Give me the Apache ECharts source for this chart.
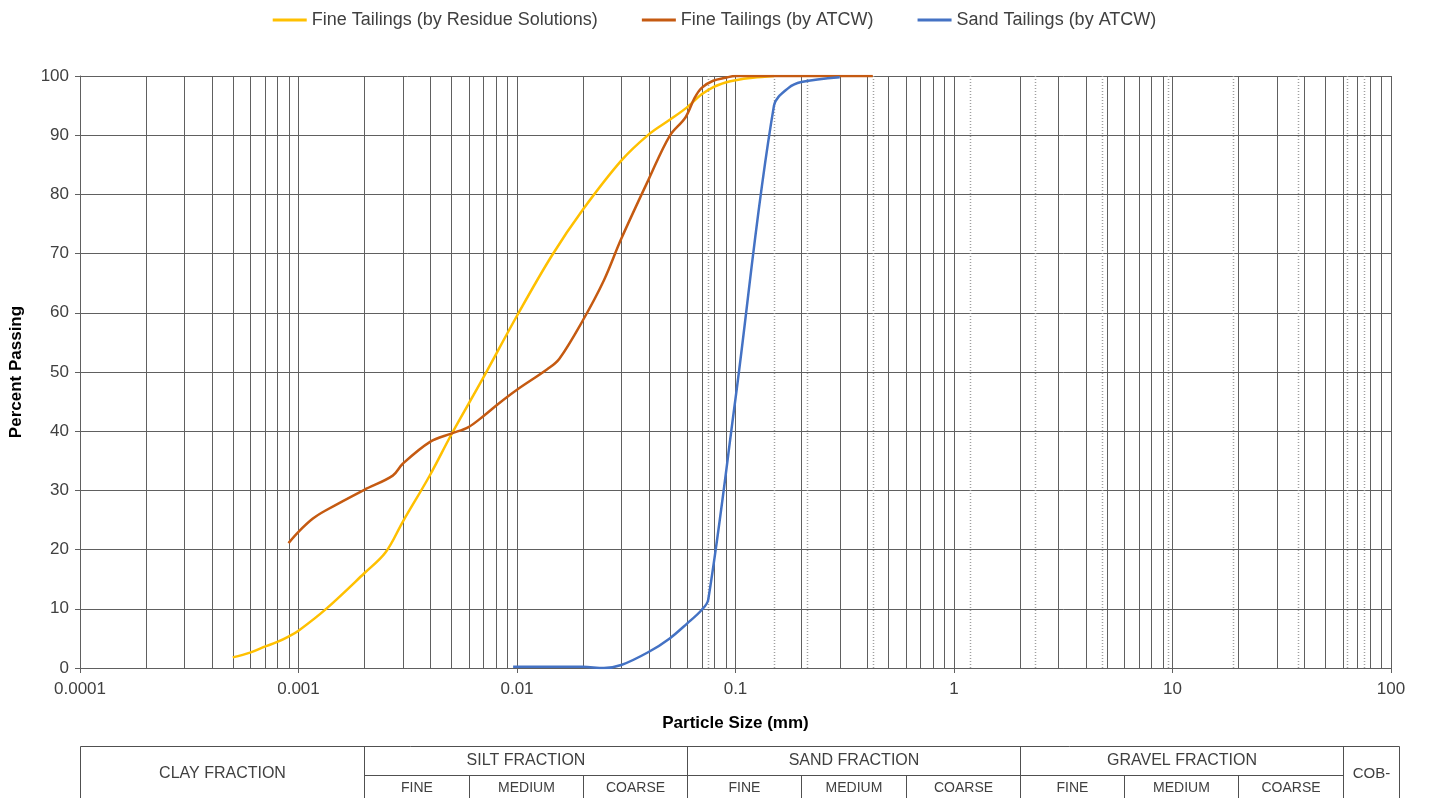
<!DOCTYPE html>
<html>
<head>
<meta charset="utf-8">
<script src="https://cdn.jsdelivr.net/npm/echarts@6/dist/echarts.min.js"></script>
<style>
html,body{margin:0;padding:0;background:#fff;}
#chart{width:1429px;height:798px;}
</style>
</head>
<body>
<div id="chart"></div>
<script>
// ---- data ----
var seriesNames = ['Fine Tailings (by Residue Solutions)', 'Fine Tailings (by ATCW)', 'Sand Tailings (by ATCW)'];
var seriesColors = ['#FFC000', '#C55A11', '#4472C4'];

var residueSize    = [0.0005, 0.0006, 0.0007, 0.0008, 0.0009, 0.001, 0.00133, 0.002, 0.0025, 0.003, 0.004, 0.005, 0.007, 0.01, 0.0144, 0.02, 0.03, 0.04, 0.05, 0.06, 0.07, 0.08, 0.09, 0.1, 0.12, 0.15];
var residuePassing = [1.8,    2.6,    3.6,    4.4,    5.3,    6.3,   9.9,     16.0,  19.5,   24.7,  32.6,  39.4,  49.0,  59.5, 69.6,   77.4, 85.7, 90.1, 92.6, 94.7, 96.9, 98.2, 98.9, 99.3, 99.7, 100];

var atcwFineSize    = [0.0009, 0.001, 0.00116, 0.00133, 0.002, 0.0027, 0.003, 0.004, 0.005, 0.006, 0.0071, 0.0082, 0.01, 0.0138, 0.0156, 0.02, 0.025, 0.03, 0.04, 0.05, 0.059, 0.065, 0.07, 0.079, 0.09, 0.1, 0.425];
var atcwFinePassing = [21.1,   23.0,  25.2,    26.6,    30.1,  32.5,   34.5,  38.2,  39.6,  40.7,  42.7,   44.6,   47.0, 50.5,   52.2,   58.7, 65.5,  72.5, 82.5, 89.9, 93.0,  96.3,  98.0, 99.2,  99.7, 100,  100];

var sandSize    = [0.0096, 0.02, 0.025, 0.03, 0.04, 0.05, 0.06, 0.07, 0.075, 0.1,  0.15, 0.175, 0.2,  0.3];
var sandPassing = [0.2,    0.2,  0.0,   0.5,  2.7,  5.0,  7.5,  9.8,  11.5,  45.5, 95.0, 98.0,  99.0, 99.8];

var xTickLabels = ['0.0001', '0.001', '0.01', '0.1', '1', '10', '100'];
var yTickLabels = ['0', '10', '20', '30', '40', '50', '60', '70', '80', '90', '100'];
var sieveSizes = [0.075, 0.15, 0.212, 0.425, 1.18, 2.36, 4.75, 9.5, 19, 37.5, 63, 75];

// fraction table: boundaries (mm) and labels
var fractionBounds = [0.002, 0.06, 2, 60];
var fractionLabels = ['CLAY FRACTION', 'SILT FRACTION', 'SAND FRACTION', 'GRAVEL FRACTION', 'COB-'];
var subBounds = [0.006, 0.02, 0.2, 0.6, 6, 20];
var subLabels = ['FINE', 'MEDIUM', 'COARSE'];

function zip(a, b) { return a.map(function (v, i) { return [v, b[i]]; }); }

var minorGrid = [];
[0.0001, 0.001, 0.01, 0.1, 1, 10].forEach(function (d) {
  for (var m = 2; m <= 9; m++) minorGrid.push(+(d * m).toPrecision(3));
});

var FONT = '"Liberation Sans", Arial, sans-serif';
var GRID_COLOR = '#606060';
var chart = echarts.init(document.getElementById('chart'));

var lineSeries = [zip(residueSize, residuePassing), zip(atcwFineSize, atcwFinePassing), zip(sandSize, sandPassing)].map(function (d, i) {
  return {
    name: seriesNames[i], type: 'line', data: d, smooth: 0.35, symbol: 'none', showSymbol: false,
    lineStyle: { color: seriesColors[i], width: 2.5 }, itemStyle: { color: seriesColors[i] },
    z: 5, animation: false
  };
});

// vertical grid lines (minor decades = 0, sieve sizes = 1) drawn through the x scale
var vData = minorGrid.map(function (v) { return [v, 0, 0]; }).concat(sieveSizes.map(function (v) { return [v, 0, 1]; }));
var gridSeries = {
  type: 'custom', data: vData, silent: true, z: 1, animation: false,
  encode: { x: 0, y: 1 },
  renderItem: function (params, api) {
    var v = api.value(0), kind = api.value(2);
    var p1 = api.coord([v, 0]), p2 = api.coord([v, 100]);
    var x = Math.round(p1[0]) + 0.5;
    return {
      type: 'line', silent: true,
      shape: { x1: x, y1: p1[1], x2: x, y2: p2[1] },
      style: kind === 0
        ? { stroke: GRID_COLOR, lineWidth: 1 }
        : { stroke: '#a0a0a0', lineWidth: 1.5, lineDash: [1, 2] }
    };
  }
};

chart.setOption({
  backgroundColor: '#fff',
  animation: false,
  textStyle: { fontFamily: FONT },
  legend: {
    data: seriesNames.map(function (n) { return { name: n, icon: 'rect' }; }),
    top: 6, left: 'center', itemGap: 44, itemWidth: 34, itemHeight: 3,
    textStyle: { fontSize: 18, color: '#404040', fontFamily: FONT }
  },
  grid: { left: 80, right: 38, top: 76, bottom: 130, containLabel: false },
  xAxis: {
    type: 'log', logBase: 10, min: 0.0001, max: 100,
    name: 'Particle Size (mm)', nameLocation: 'middle', nameGap: 47,
    nameTextStyle: { fontSize: 17, fontWeight: 'bold', color: '#000', fontFamily: FONT },
    axisLine: { show: true, lineStyle: { color: GRID_COLOR } },
    axisTick: { show: true, inside: false, length: 5, lineStyle: { color: GRID_COLOR } },
    axisLabel: {
      fontSize: 17, color: '#404040', margin: 13, fontFamily: FONT,
      formatter: function (v) { var k = Math.round(Math.log10(v)) + 4; return xTickLabels[k] || ''; }
    },
    splitLine: { show: true, lineStyle: { color: GRID_COLOR, width: 1 } },
    minorTick: { show: false }, minorSplitLine: { show: false }
  },
  yAxis: {
    type: 'value', min: 0, max: 100, interval: 10,
    name: 'Percent Passing', nameLocation: 'middle', nameGap: 55,
    nameTextStyle: { fontSize: 17, fontWeight: 'bold', color: '#000', fontFamily: FONT },
    axisLine: { show: true, lineStyle: { color: GRID_COLOR } },
    axisTick: { show: true, length: 5, lineStyle: { color: GRID_COLOR } },
    axisLabel: {
      fontSize: 17, color: '#404040', margin: 11, fontFamily: FONT,
      formatter: function (v) { return yTickLabels[Math.round(v / 10)]; }
    },
    splitLine: { show: true, lineStyle: { color: GRID_COLOR, width: 1 } }
  },
  series: [gridSeries].concat(lineSeries)
});

// ---- fraction table under the axis, positioned through the x scale ----
function px(v) { return Math.round(chart.convertToPixel({ xAxisIndex: 0 }, v)) + 0.5; }
var xL = px(0.0001), xR = px(100) + 8;
var yTop = 746.5, yMid = 775.5, yBot = 815;
var lc = '#505050';
var els = [];
function line(x1, y1, x2, y2) {
  els.push({ type: 'line', silent: true, shape: { x1: x1, y1: y1, x2: x2, y2: y2 }, style: { stroke: lc, lineWidth: 1 } });
}
function text(t, x, y, size) {
  els.push({ type: 'text', silent: true, x: x, y: y, style: { text: t, fill: '#404040', font: size + 'px ' + FONT, align: 'center', verticalAlign: 'middle' } });
}
line(xL, yTop, xR, yTop);
line(xL, yTop, xL, yBot);
line(xR, yTop, xR, yBot);
var mainEdges = [xL].concat(fractionBounds.map(px)).concat([xR]);
fractionBounds.forEach(function (b) { var x = px(b); line(x, yTop, x, yBot); });
line(mainEdges[1], yMid, mainEdges[4], yMid);
subBounds.forEach(function (b) { var x = px(b); line(x, yMid, x, yBot); });
text(fractionLabels[0], (mainEdges[0] + mainEdges[1]) / 2, 774, 16);
text(fractionLabels[4], (mainEdges[4] + mainEdges[5]) / 2, 774, 15);
for (var f = 1; f <= 3; f++) {
  text(fractionLabels[f], (mainEdges[f] + mainEdges[f + 1]) / 2, 761, 16);
  var e = [mainEdges[f], px(subBounds[(f - 1) * 2]), px(subBounds[(f - 1) * 2 + 1]), mainEdges[f + 1]];
  for (var s = 0; s < 3; s++) text(subLabels[s], (e[s] + e[s + 1]) / 2, 788, 14);
}
chart.setOption({ graphic: { elements: els } });
</script>
</body>
</html>
